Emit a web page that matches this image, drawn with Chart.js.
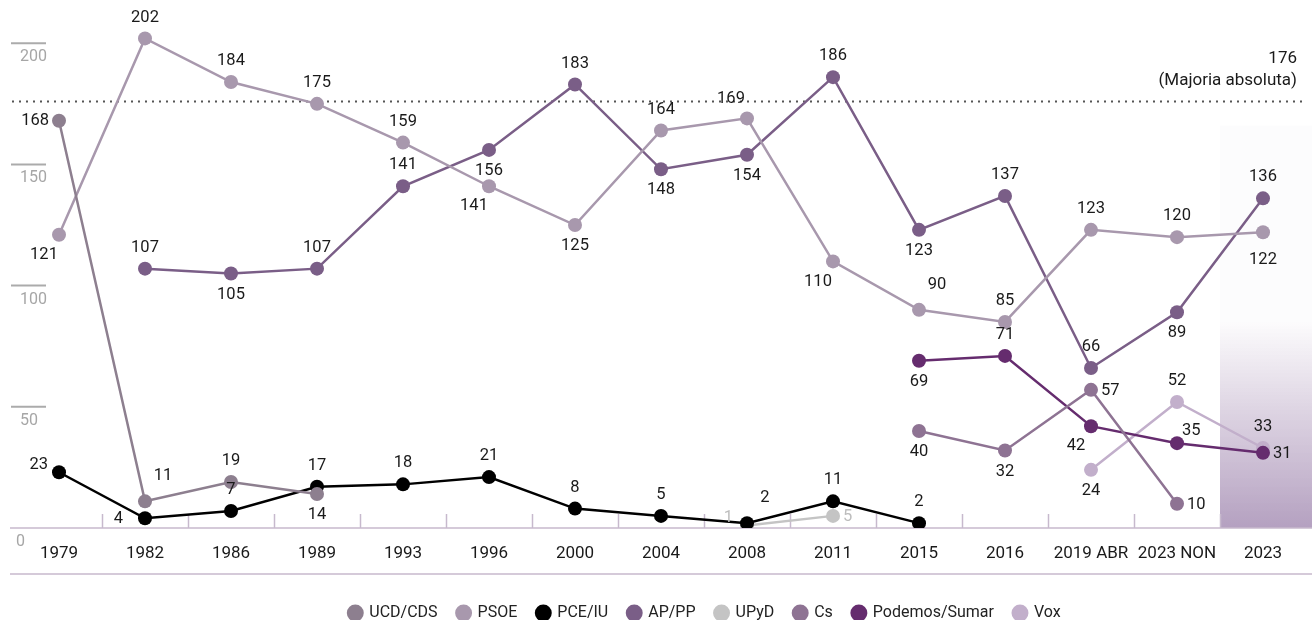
<!DOCTYPE html>
<html><head><meta charset="utf-8">
<script src="https://cdn.jsdelivr.net/npm/chart.js@4.4.0/dist/chart.umd.min.js"></script>
<style>
html,body{margin:0;padding:0;background:#fff}
#wrap{width:1314px;height:620px;position:relative}
</style></head><body>
<div id="wrap"><canvas id="c"></canvas></div>
<script>
// elections (x categories)
const years = ["1979","1982","1986","1989","1993","1996","2000","2004","2008","2011","2015","2016","2019 ABR","2023 NON","2023"];
// seats per party, null = did not run / no seats
const ucdCds  = [168, 11, 19, 14, null, null, null, null, null, null, null, null, null, null, null];
const psoe    = [121, 202, 184, 175, 159, 141, 125, 164, 169, 110, 90, 85, 123, 120, 122];
const pceIu   = [23, 4, 7, 17, 18, 21, 8, 5, 2, 11, 2, null, null, null, null];
const apPp    = [null, 107, 105, 107, 141, 156, 183, 148, 154, 186, 123, 137, 66, 89, 136];
const upyd    = [null, null, null, null, null, null, null, null, 1, 5, null, null, null, null, null];
const cs      = [null, null, null, null, null, null, null, null, null, null, 40, 32, 57, 10, null];
const podemos = [null, null, null, null, null, null, null, null, null, null, 69, 71, 42, 35, 31];
const vox     = [null, null, null, null, null, null, null, null, null, null, null, null, 24, 52, 33];
const yTicks  = [0, 50, 100, 150, 200];
const majority = 176;

// where each value label sits relative to its point
const FONT = "Roboto";
const pos = {
  ucd:  ["l","tr","t","b"],
  psoe: ["bl","t","t","t","t","bl","b","t","tl","bl","tr","t","t","t","bb"],
  pce:  ["lu","ll","t","t","t","t","t","t","tr","t","t"],
  pp:   [null,"t","b","t","t","b","t","b","b","t","b","t","t","b","t"],
  upyd: [null,null,null,null,null,null,null,null,"lu2","r"],
  cs:   [null,null,null,null,null,null,null,null,null,null,"b","b","r","r"],
  pod:  [null,null,null,null,null,null,null,null,null,null,"b","t","bl","ru","r"],
  vox:  [null,null,null,null,null,null,null,null,null,null,null,null,"b","t","t"]
};
const OFF = {
  t: [0,-21,"center"], b: [0,21,"center"], bb: [0,28,"center"],
  l: [-10,0,"right"], ll: [-22,1,"right"], lu: [-11,-7,"right"], lu2: [-14,-8,"right"],
  r: [10,1,"left"], ru: [5,-12,"left"],
  tl: [-16,-20,"center"], tr: [18,-25,"center"], bl: [-15,20,"center"]
};

const mk = (label, data, color, key, txt) => ({
  label, data, borderColor: color, backgroundColor: color, pointBackgroundColor: color,
  pointBorderWidth: 0, pointRadius: 7, pointHoverRadius: 7, borderWidth: 2.5,
  spanGaps: false, tension: 0, _pos: pos[key], _txt: txt || "#1a1a1a"
});

const datasets = [
  mk("UCD/CDS", ucdCds, "#8d7f8f", "ucd"),
  mk("PSOE", psoe, "#a898ad", "psoe"),
  mk("PCE/IU", pceIu, "#000000", "pce"),
  mk("AP/PP", apPp, "#7a5e87", "pp"),
  mk("UPyD", upyd, "#c4c4c4", "upyd", "#bdbdbd"),
  mk("Cs", cs, "#8e7393", "cs"),
  mk("Podemos/Sumar", podemos, "#652c6e", "pod"),
  mk("Vox", vox, "#c2afcb", "vox")
];

const decor = {
  id: "decor",
  afterLayout(chart) {
    // legend sits a bit right of centre in the original
    chart.legend.left += 44; chart.legend.right += 44;
  },
  beforeDatasetsDraw(chart) {
    const { ctx, scales: { x, y } } = chart;
    ctx.save();
    // shaded last column
    const xl = Math.round((x.getPixelForValue(13) + x.getPixelForValue(14)) / 2);
    const y0 = y.getPixelForValue(0), yTop = y.getPixelForValue(166), yMid = y.getPixelForValue(85);
    ctx.fillStyle = "rgba(185,166,196,0.04)";
    ctx.fillRect(xl, yTop, 1312 - xl, yMid - yTop);
    const g = ctx.createLinearGradient(0, yMid, 0, y0);
    g.addColorStop(0, "rgba(185,166,196,0.04)");
    g.addColorStop(0.45, "rgba(185,166,196,0.5)");
    g.addColorStop(1, "rgba(180,160,192,1)");
    ctx.fillStyle = g;
    ctx.fillRect(xl, yMid, 1312 - xl, y0 - yMid);
    // baseline + lower rule
    ctx.strokeStyle = "#c7b9cd"; ctx.lineWidth = 1.5;
    ctx.beginPath(); ctx.moveTo(10, y0); ctx.lineTo(1312, y0); ctx.stroke();
    ctx.beginPath(); ctx.moveTo(10, y0 + 46); ctx.lineTo(1312, y0 + 46); ctx.stroke();
    // category boundary ticks
    for (let i = 0; i < years.length - 1; i++) {
      const bx = Math.round((x.getPixelForValue(i) + x.getPixelForValue(i + 1)) / 2) + 0.5;
      ctx.beginPath(); ctx.moveTo(bx, y0); ctx.lineTo(bx, y0 - 14); ctx.stroke();
    }
    // y ticks
    ctx.font = `16px ${FONT}`; ctx.fillStyle = "#a6a6a6"; ctx.textAlign = "left"; ctx.textBaseline = "middle";
    ctx.strokeStyle = "#ababab"; ctx.lineWidth = 2;
    yTicks.forEach(v => {
      const py = y.getPixelForValue(v);
      if (v > 0) { ctx.beginPath(); ctx.moveTo(11, py); ctx.lineTo(46, py); ctx.stroke(); }
      ctx.fillText(String(v), v === 0 ? 16 : 20, py + 14);
    });
    // majority line
    const my = Math.round(y.getPixelForValue(majority)) + 0.5;
    ctx.strokeStyle = "#555"; ctx.lineWidth = 2; ctx.setLineDash([2, 5]);
    ctx.beginPath(); ctx.moveTo(12, my); ctx.lineTo(1306, my); ctx.stroke();
    ctx.setLineDash([]);
    ctx.fillStyle = "#1a1a1a"; ctx.textAlign = "right"; ctx.font = `17px ${FONT}`;
    ctx.fillText(String(majority), 1297, my - 43);
    ctx.fillText("(Majoria absoluta)", 1297, my - 21);
    ctx.restore();
  },
  afterDatasetsDraw(chart) {
    const { ctx } = chart;
    ctx.save();
    ctx.font = `16.5px ${FONT}`; ctx.textBaseline = "middle";
    chart.data.datasets.forEach((ds, di) => {
      const meta = chart.getDatasetMeta(di);
      ds.data.forEach((v, i) => {
        if (v == null) return;
        const p = meta.data[i], code = ds._pos[i] || "t", o = OFF[code];
        ctx.fillStyle = ds._txt; ctx.textAlign = o[2];
        ctx.fillText(String(v), p.x + o[0], p.y + o[1]);
      });
    });
    ctx.restore();
  }
};

new Chart(document.getElementById("c"), {
  type: "line",
  data: { labels: years, datasets },
  options: {
    responsive: true, maintainAspectRatio: false, animation: false,
    layout: { padding: { top: 19, left: 16, right: 8, bottom: -11 } },
    plugins: {
      legend: {
        position: "bottom",
        labels: { usePointStyle: true, pointStyle: "circle", boxWidth: 12, boxHeight: 12, padding: 20,
                  color: "#222", font: { family: FONT, size: 16 } }
      },
      tooltip: { enabled: false }
    },
    scales: {
      x: { offset: true, grid: { display: false }, border: { display: false },
           afterFit: s => { s.height = 57; },
           ticks: { color: "#1a1a1a", padding: 8, font: { family: FONT, size: 17 }, maxRotation: 0, autoSkip: false } },
      y: { display: false, min: 0, max: 210 }
    }
  },
  plugins: [decor]
});
</script>
</body></html>
